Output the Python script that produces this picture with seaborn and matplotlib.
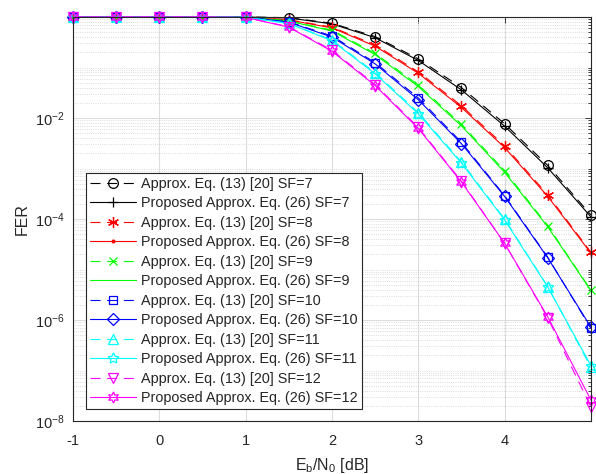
import numpy as np
import pandas as pd
import seaborn as sns
import matplotlib
matplotlib.use("Agg")
import matplotlib.pyplot as plt
from matplotlib.ticker import FixedLocator, LogLocator, LogFormatterMathtext, NullFormatter

# Eb/N0 grid (dB)
ebn0 = [-1, -0.5, 0, 0.5, 1, 1.5, 2, 2.5, 3, 3.5, 4, 4.5, 5]

# FER: approximation (13) [20] vs proposed (26)
approx_sf7 = [1, 1, 1, 1, 0.999, 0.97, 0.75, 0.41, 0.148, 0.040, 7.7e-3, 1.15e-3, 1.2e-4]
prop_sf7 = [1, 1, 1, 1, 0.999, 0.96, 0.73, 0.39, 0.138, 0.036, 6.9e-3, 1.03e-3, 1.1e-4]
approx_sf8 = [1, 1, 1, 1, 0.998, 0.88, 0.63, 0.28, 0.082, 0.0175, 2.8e-3, 3.0e-4, 2.2e-5]
prop_sf8 = [1, 1, 1, 1, 0.998, 0.87, 0.61, 0.265, 0.077, 0.0162, 2.6e-3, 2.8e-4, 2.1e-5]
approx_sf9 = [1, 1, 1, 1, 0.997, 0.84, 0.55, 0.19, 0.045, 7.5e-3, 9.0e-4, 7.4e-5, 3.9e-6]
prop_sf9 = [1, 1, 1, 1, 0.997, 0.83, 0.53, 0.18, 0.042, 7.0e-3, 8.4e-4, 7.0e-5, 3.8e-6]
approx_sf10 = [1, 1, 1, 1, 0.995, 0.80, 0.42, 0.125, 0.025, 3.3e-3, 2.9e-4, 1.75e-5, 6.8e-7]
prop_sf10 = [1, 1, 1, 1, 0.995, 0.79, 0.40, 0.118, 0.023, 3.1e-3, 2.8e-4, 1.7e-5, 7.2e-7]
approx_sf11 = [1, 1, 1, 1, 0.99, 0.75, 0.35, 0.079, 0.0128, 1.35e-3, 1.0e-4, 4.6e-6, 1.15e-7]
prop_sf11 = [1, 1, 1, 1, 0.99, 0.74, 0.34, 0.075, 0.0121, 1.28e-3, 9.6e-5, 4.5e-6, 1.25e-7]
approx_sf12 = [1, 1, 1, 1, 0.98, 0.64, 0.22, 0.046, 6.5e-3, 5.6e-4, 3.3e-5, 1.1e-6, 1.9e-8]
prop_sf12 = [1, 1, 1, 1, 0.98, 0.63, 0.21, 0.044, 6.2e-3, 5.4e-4, 3.3e-5, 1.15e-6, 2.6e-8]

spreading = [7, 8, 9, 10, 11, 12]
approx_all = [approx_sf7, approx_sf8, approx_sf9, approx_sf10, approx_sf11, approx_sf12]
prop_all = [prop_sf7, prop_sf8, prop_sf9, prop_sf10, prop_sf11, prop_sf12]

# styling per SF (MATLAB-like)
colors = ["black", "red", "#00ff00", "blue", "cyan", "magenta"]
approx_marker = ["o", (6, 2, 0), "x", "s", "^", "v"]
approx_ms = [7, 8, 6, 6, 7, 7]
prop_marker = ["+", ".", "None", "D", (5, 1, 0), (6, 1, 0)]
prop_ms = [7, 4, 6, 6, 8, 8]

sns.set_theme(style="white")
plt.rcParams["font.family"] = ["Liberation Sans", "DejaVu Sans"]
plt.rcParams["mathtext.default"] = "regular"
plt.rcParams["axes.unicode_minus"] = False

fig = plt.figure(figsize=(5.96, 4.74), dpi=100)
ax = fig.add_axes([0.1225, 0.1118, 0.869, 0.8523])
ax.set_yscale("log")

for sf, col, ya, yp, ma, msa, mp, msp in zip(spreading, colors, approx_all, prop_all,
                                             approx_marker, approx_ms, prop_marker, prop_ms):
    sns.lineplot(x=ebn0, y=ya, ax=ax, estimator=None, sort=False, color=col,
                 linestyle=(0, (9, 6)), linewidth=0.8, marker=ma, markersize=msa,
                 markerfacecolor="none", markeredgecolor=col, markeredgewidth=0.9,
                 label=f"Approx. Eq. (13) [20] SF={sf}", clip_on=False)
    sns.lineplot(x=ebn0, y=yp, ax=ax, estimator=None, sort=False, color=col,
                 linestyle="-", linewidth=0.8, marker=mp, markersize=msp,
                 markerfacecolor="none" if mp != "." else col, markeredgecolor=col,
                 markeredgewidth=0.9, label=f"Proposed Approx. Eq. (26) SF={sf}", clip_on=False)

ax.set_xlim(-1, 5)
ax.set_ylim(1e-8, 1)
ax.set_xticks([-1, 0, 1, 2, 3, 4])
ax.yaxis.set_major_locator(FixedLocator([1e-8, 1e-6, 1e-4, 1e-2]))
ax.yaxis.set_major_formatter(LogFormatterMathtext())
ax.yaxis.set_minor_locator(LogLocator(base=10, subs=np.arange(1, 10), numticks=100))
ax.yaxis.set_minor_formatter(NullFormatter())

ax.tick_params(which="both", direction="in", top=True, right=True, colors="#262626",
               labelsize=10.5, width=0.6)
ax.tick_params(which="major", length=4)
ax.tick_params(which="minor", length=2.5)
ax.tick_params(axis="x", which="major", pad=9)
ax.tick_params(axis="y", which="major", pad=6)
for s in ax.spines.values():
    s.set_color("#262626")
    s.set_linewidth(0.8)

ax.grid(True, which="major", color="#dcdcdc", linewidth=0.8)
ax.grid(True, which="minor", axis="y", color="#cfcfcf", linestyle=":", linewidth=0.6)
ax.set_axisbelow(True)

ax.set_xlabel("E$_b$/N$_0$ [dB]", fontsize=11.5, color="#262626", labelpad=6)
ax.set_ylabel("FER", fontsize=11.5, color="#262626", labelpad=4)

leg = ax.legend(loc="lower left", bbox_to_anchor=(0.026, 0.03), fontsize=10.4,
                frameon=True, fancybox=False, framealpha=1, edgecolor="#262626",
                handlelength=3.2, handletextpad=0.35, labelspacing=0.38,
                borderpad=0.25, borderaxespad=0)
leg.get_frame().set_linewidth(0.8)

fig.savefig("out.png", dpi=100)
